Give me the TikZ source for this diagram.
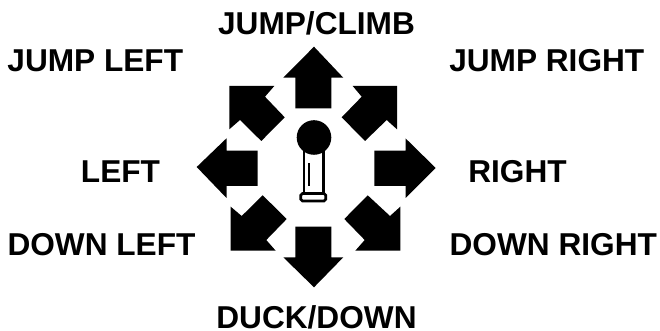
\documentclass[tikz,border=0pt]{standalone}
\usepackage{fontspec}
\setmainfont{Liberation Sans}
\tikzset{
  dirlabel/.style={font=\fontsize{18}{20}\selectfont\bfseries,inner sep=0pt,text height=13pt,text depth=0pt},
  dirarrow/.style={fill=black,draw=none},
  stickline/.style={draw=black,line width=1.5pt,fill=white}
}
\begin{document}
\begin{tikzpicture}[x=0.02cm,y=-0.02cm]
    \useasboundingbox (0,0) rectangle (660,331);
    % straight arrows
    \fill[dirarrow] (314,46.7) -- (343.3,77.7) -- (331.3,77.7) -- (331.3,108.3) -- (295.3,108.3) -- (295.3,77.7) -- (283.3,77.7) -- cycle;
    \fill[dirarrow] (314,287.3) -- (343.3,257.3) -- (331.3,257.3) -- (331.3,226.7) -- (295.3,226.7) -- (295.3,257.3) -- (283.3,257.3) -- cycle;
    \fill[dirarrow] (196.7,167) -- (226.5,138.3) -- (226.5,150.7) -- (257.7,150.7) -- (257.7,186) -- (226.5,186) -- (226.5,198) -- cycle;
    \fill[dirarrow] (435.7,168) -- (405.5,138.3) -- (405.5,150.7) -- (374.3,150.7) -- (374.3,186) -- (405.5,186) -- (405.5,198) -- cycle;
    % diagonal arrows
    \fill[dirarrow] (229.3,86) -- (274.3,86) -- (265,96.7) -- (284.7,117.3) -- (261.3,141) -- (240,120) -- (229.3,129.3) -- cycle;
    \fill[dirarrow] (397,86) -- (352.7,86) -- (361.7,96.7) -- (341.7,117.3) -- (365,141) -- (386.7,120) -- (397,129.3) -- cycle;
    \fill[dirarrow] (230.7,250.7) -- (275.7,250.7) -- (266.3,240) -- (286.7,219) -- (262.7,195.3) -- (241.7,216) -- (230.7,206.7) -- cycle;
    \fill[dirarrow] (400.3,250.7) -- (355.3,250.7) -- (364.7,240) -- (344.3,219) -- (367.7,195.3) -- (390,216) -- (400.3,206.7) -- cycle;
    % joystick
    \draw[stickline] (304,150) rectangle (323.7,193.5);
    \fill (307.5,163.5) rectangle (310,186.5);
    \draw[stickline,rounded corners=1pt] (300.8,193.5) rectangle (325.8,201);
    \fill (314,137.5) circle[radius=17.3];
    % labels
    \node[dirlabel] (jumpclimb) at (316.5,23) {JUMP/CLIMB};
    \node[dirlabel] (jumpleft) at (95.3,59.7) {JUMP LEFT};
    \node[dirlabel] (jumpright) at (546.8,59.7) {JUMP RIGHT};
    \node[dirlabel] (leftlabel) at (120.5,171) {LEFT};
    \node[dirlabel] (rightlabel) at (517.5,171) {RIGHT};
    \node[dirlabel] (downleft) at (101.5,243.8) {DOWN LEFT};
    \node[dirlabel] (downright) at (553.3,243.8) {DOWN RIGHT};
    \node[dirlabel] (duckdown) at (316.5,317.5) {DUCK/DOWN};
\end{tikzpicture}
\end{document}
